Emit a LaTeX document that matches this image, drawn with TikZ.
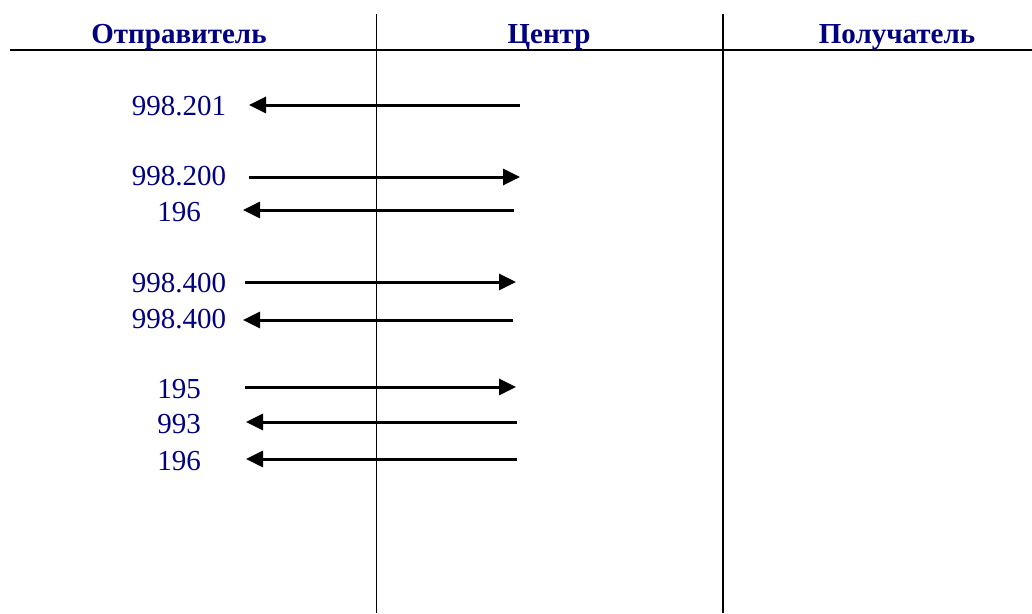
\documentclass[tikz,border=0pt]{standalone}
\usepackage{fontspec}
\setmainfont{Liberation Serif}
\usetikzlibrary{arrows.meta}
\definecolor{navy}{RGB}{0,0,128}
\begin{document}
\begin{tikzpicture}[x=1pt,y=-1pt,
 lbl/.style={anchor=base,text=navy,font=\fontsize{29}{34}\selectfont,inner sep=0pt},
 hdr/.style={anchor=base,text=navy,font=\fontsize{29}{34}\selectfont\bfseries,inner sep=0pt},
 msg/.style={line width=3pt,-{Triangle[length=17pt,width=16pt]}},
 rule/.style={line width=2pt},
 thinrule/.style={line width=1pt},
]
\useasboundingbox (0,0) rectangle (1032,613);
% frame lines
\coordinate (hl) at (10,50);
\coordinate (hr) at (1032,50);
\coordinate (v1t) at (376,14);
\coordinate (v1b) at (376,613);
\coordinate (v2t) at (723,14);
\coordinate (v2b) at (723,613);
\draw[rule] (hl) -- (hr);
\draw[thinrule] (v1t) -- (v1b);
\draw[rule] (v2t) -- (v2b);
% headers
\node[hdr] (hs) at (179,43) {Отправитель};
\node[hdr] (hc) at (549,43) {Центр};
\node[hdr] (hp) at (897,43) {Получатель};
% labels
\node[lbl] (l1) at (179,115) {998.201};
\node[lbl] (l2) at (179,185) {998.200};
\node[lbl] (l3) at (179,221) {196};
\node[lbl] (l4) at (179,292) {998.400};
\node[lbl] (l5) at (179,328) {998.400};
\node[lbl] (l6) at (179,398) {195};
\node[lbl] (l7) at (179,433) {993};
\node[lbl] (l8) at (179,470) {196};
% arrow ends
\coordinate (a1s) at (520,105);   \coordinate (a1e) at (249,105);
\coordinate (a2s) at (249,177);   \coordinate (a2e) at (520,177);
\coordinate (a3s) at (514,210);   \coordinate (a3e) at (243,210);
\coordinate (a4s) at (245,282);   \coordinate (a4e) at (516,282);
\coordinate (a5s) at (513,320);   \coordinate (a5e) at (243,320);
\coordinate (a6s) at (245,387);   \coordinate (a6e) at (516,387);
\coordinate (a7s) at (517,422);   \coordinate (a7e) at (246,422);
\coordinate (a8s) at (517,459);   \coordinate (a8e) at (246,459);
\foreach \i in {1,...,8}{\draw[msg] (a\i s) -- (a\i e);}
\end{tikzpicture}
\end{document}
